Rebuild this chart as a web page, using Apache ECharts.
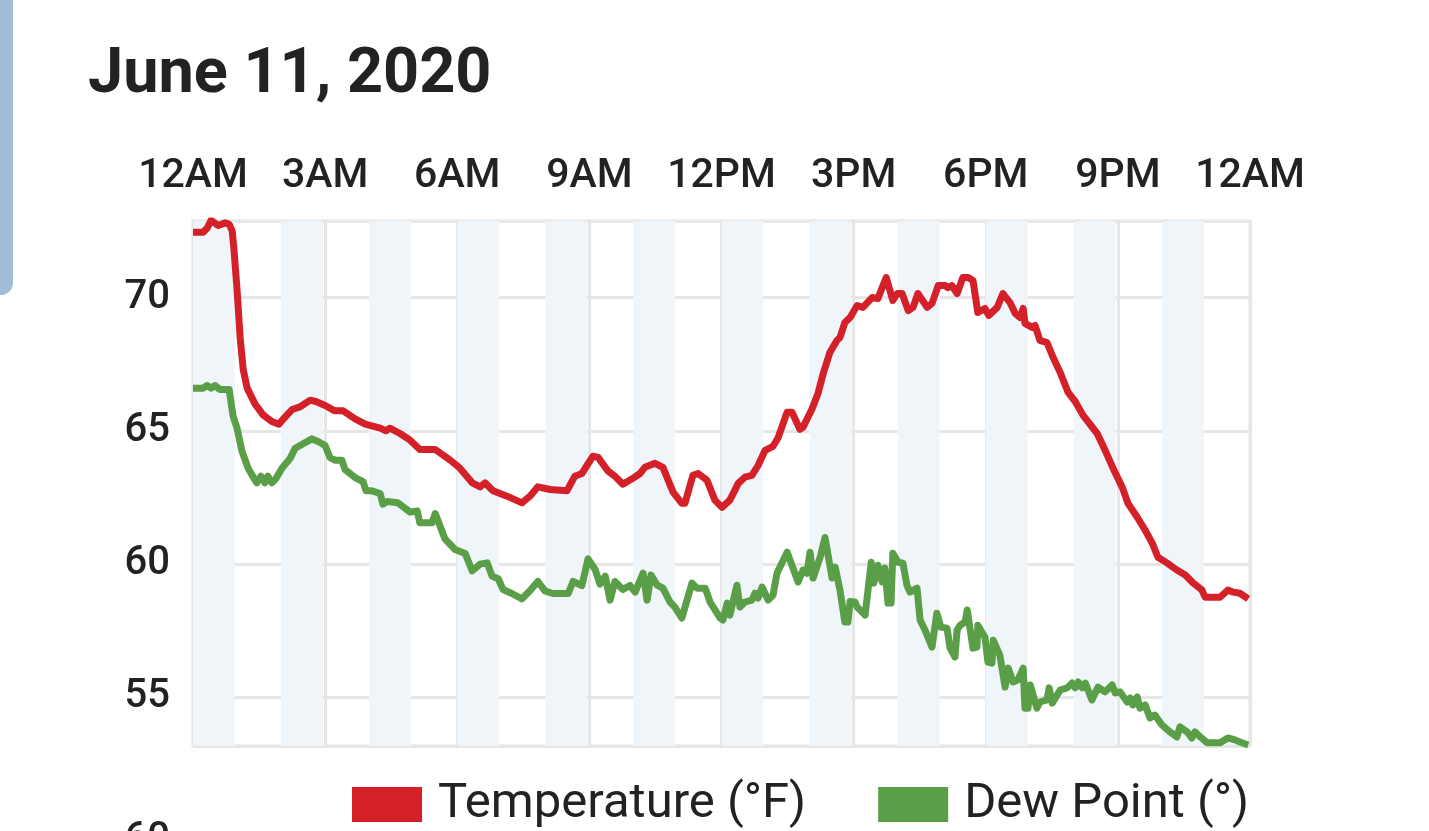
<!DOCTYPE html>
<html>
<head>
<meta charset="utf-8">
<script src="https://cdn.jsdelivr.net/npm/echarts@6/dist/echarts.min.js"></script>
<style>
html,body{margin:0;padding:0;background:#fff;}
#chart{width:1429px;height:831px;}
</style>
</head>
<body>
<div id="chart"></div>
<script>
// Tick labels for the hour axis (every 3 hours)
const tickLabels = ['12AM','3AM','6AM','9AM','12PM','3PM','6PM','9PM','12AM'];

// Temperature (°F): time in hours since midnight, value
const tempHours = [0.00,0.23,0.32,0.41,0.57,0.73,0.82,0.89,0.93,1.00,1.07,1.14,1.23,1.41,1.59,1.79,1.95,2.11,2.25,2.43,2.66,2.79,3.00,3.22,3.41,3.68,3.91,4.25,4.38,4.47,4.70,4.93,5.15,5.50,5.84,6.06,6.34,6.52,6.63,6.81,7.13,7.47,7.65,7.83,8.11,8.49,8.67,8.83,9.08,9.20,9.42,9.58,9.76,9.97,10.15,10.26,10.49,10.67,10.90,11.10,11.17,11.35,11.47,11.67,11.85,12.01,12.19,12.38,12.53,12.69,12.83,12.99,13.17,13.28,13.49,13.60,13.78,13.85,14.06,14.19,14.31,14.46,14.62,14.69,14.80,14.92,15.08,15.21,15.42,15.55,15.74,15.89,15.99,16.10,16.24,16.35,16.46,16.67,16.78,16.92,17.08,17.14,17.23,17.35,17.48,17.60,17.71,17.82,17.98,18.07,18.26,18.39,18.55,18.67,18.78,18.85,18.89,19.05,19.12,19.23,19.39,19.53,19.69,19.87,20.03,20.21,20.53,20.71,20.89,21.10,21.23,21.44,21.62,21.78,21.91,22.12,22.34,22.53,22.71,22.91,22.98,23.32,23.50,23.62,23.77,23.96];
const tempValues = [72.45,72.45,72.6,72.9,72.7,72.8,72.75,72.5,71.8,70.3,68.5,67.3,66.6,66.0,65.6,65.35,65.25,65.55,65.8,65.9,66.15,66.1,65.95,65.75,65.75,65.45,65.25,65.1,65.0,65.1,64.9,64.65,64.3,64.3,63.9,63.6,63.05,62.9,63.05,62.75,62.55,62.3,62.55,62.9,62.8,62.75,63.3,63.4,64.05,64.0,63.5,63.3,63.0,63.2,63.4,63.63,63.78,63.63,62.7,62.28,62.28,63.33,63.4,63.15,62.4,62.13,62.4,63.03,63.26,63.33,63.7,64.27,64.42,64.72,65.7,65.7,65.06,65.13,65.84,66.4,67.15,67.94,68.39,68.5,69.06,69.25,69.7,69.63,70.0,69.96,70.75,69.89,70.15,70.15,69.51,69.63,70.15,69.63,69.78,70.45,70.45,70.37,70.45,70.15,70.75,70.75,70.64,69.44,69.59,69.33,69.63,70.15,69.81,69.4,69.25,69.59,69.03,68.88,68.95,68.39,68.31,67.75,67.19,66.44,66.1,65.58,64.9,64.27,63.6,62.88,62.28,61.76,61.27,60.79,60.26,60.04,59.78,59.59,59.29,59.03,58.76,58.76,59.03,58.95,58.91,58.7];

// Dew Point (°): time in hours since midnight, value
const dewHours = [0.00,0.23,0.32,0.41,0.50,0.61,0.82,0.91,1.00,1.11,1.25,1.39,1.45,1.54,1.63,1.70,1.79,1.88,2.02,2.20,2.32,2.48,2.70,2.84,3.00,3.11,3.22,3.38,3.45,3.68,3.86,3.93,4.06,4.25,4.31,4.41,4.65,4.93,5.09,5.15,5.43,5.50,5.72,5.95,6.18,6.34,6.52,6.68,6.79,6.93,7.04,7.24,7.47,7.65,7.83,7.99,8.17,8.52,8.63,8.83,8.97,9.13,9.24,9.36,9.47,9.58,9.76,9.92,10.04,10.22,10.31,10.40,10.54,10.67,10.83,10.94,11.10,11.33,11.44,11.63,11.74,11.97,12.03,12.13,12.19,12.35,12.42,12.53,12.69,12.76,12.83,12.92,13.06,13.17,13.26,13.49,13.74,13.85,13.94,14.01,14.08,14.24,14.35,14.51,14.58,14.69,14.80,14.87,14.92,15.03,15.08,15.26,15.40,15.46,15.55,15.65,15.71,15.78,15.85,15.89,16.01,16.12,16.21,16.28,16.44,16.51,16.62,16.78,16.89,16.98,17.12,17.19,17.30,17.35,17.42,17.53,17.58,17.71,17.80,17.82,17.98,18.05,18.14,18.17,18.32,18.44,18.51,18.62,18.73,18.85,18.89,18.96,19.01,19.16,19.23,19.39,19.44,19.51,19.69,19.85,19.96,20.03,20.10,20.19,20.26,20.41,20.55,20.71,20.87,20.94,21.05,21.21,21.28,21.34,21.44,21.50,21.62,21.73,21.84,22.00,22.18,22.34,22.41,22.57,22.68,22.75,22.87,23.03,23.32,23.50,23.66,23.77,23.96];
const dewValues = [66.6,66.6,66.7,66.6,66.7,66.55,66.55,65.55,65.1,64.25,63.6,63.2,63.05,63.3,63.05,63.3,63.05,63.2,63.6,63.95,64.35,64.5,64.7,64.6,64.45,64.0,63.9,63.9,63.55,63.25,63.1,62.75,62.75,62.65,62.25,62.35,62.3,61.95,62.0,61.55,61.55,61.9,60.95,60.55,60.4,59.75,60.0,60.05,59.55,59.45,59.05,58.9,58.7,59.0,59.35,59.0,58.9,58.9,59.35,59.2,60.2,59.8,59.25,59.55,58.65,59.35,59.05,59.2,58.95,59.66,58.65,59.59,59.21,59.1,58.58,58.39,57.98,59.29,59.1,59.1,58.58,57.98,57.9,58.54,58.09,59.21,58.39,58.58,58.65,58.91,58.73,59.14,58.65,58.84,59.66,60.45,59.33,59.78,59.66,60.45,59.48,60.26,61.0,59.48,59.89,59.03,57.83,57.83,58.6,58.58,58.39,58.09,60.07,59.29,59.96,59.33,59.85,58.54,58.54,60.41,60.07,60.04,59.21,58.95,59.1,57.9,57.53,56.89,58.16,57.64,57.6,56.85,56.52,57.53,57.71,57.83,58.28,56.85,56.89,57.71,57.27,56.33,56.29,57.15,56.59,55.39,56.1,55.58,55.66,56.1,54.6,54.6,55.47,54.6,54.83,54.91,55.36,54.79,55.28,55.36,55.54,55.36,55.58,55.36,55.54,54.91,55.39,55.21,55.47,55.17,55.21,54.83,54.98,54.72,55.02,54.6,54.72,54.23,54.34,53.97,53.71,53.52,53.9,53.71,53.48,53.71,53.52,53.3,53.3,53.48,53.41,53.33,53.22];

// Shaded hour bands (start hour of each shaded hour)
const bandStarts = [0,2,4,6,8,10,12,14,16,18,20,22];

const RED = '#d42129';
const GREEN = '#5b9e48';
const TEXT = '#222222';
const GRID = '#e6e6e6';

const zip = (a, b) => a.map((x, i) => [x, b[i]]);

const chart = echarts.init(document.getElementById('chart'), null, {renderer: 'canvas'});

chart.setOption({
  animation: false,
  backgroundColor: '#ffffff',
  textStyle: {fontFamily: 'Roboto'},
  title: {
    text: 'June 11, 2020',
    left: 83,
    top: 40,
    textStyle: {fontFamily: 'Roboto', fontSize: 63, fontWeight: 'bold', color: TEXT}
  },
  graphic: [
    {type: 'rect', shape: {x: -30, y: -30, width: 43, height: 325, r: 12}, style: {fill: '#a2bdd7'}, z: 100},
    {type: 'text', right: 1429 - 170, top: 820, style: {text: '60', font: '500 40px Roboto', fill: TEXT}}
  ],
  legend: {
    left: 347,
    top: 775,
    itemWidth: 70,
    itemHeight: 35,
    itemGap: 72,
    icon: 'rect',
    textStyle: {fontFamily: 'Roboto', fontSize: 49, color: TEXT, padding: [0, 0, 0, 11]},
    data: ['Temperature (°F)', 'Dew Point (°)']
  },
  grid: {
    left: 193, right: 1429 - 1250, top: 221, bottom: 831 - 746,
    show: true, borderColor: GRID, borderWidth: 3, backgroundColor: 'transparent',
    containLabel: false
  },
  xAxis: {
    type: 'value', position: 'top', min: 0, max: 24, interval: 3,
    axisLine: {show: false}, axisTick: {show: false},
    splitLine: {show: true, lineStyle: {color: GRID, width: 3}},
    axisLabel: {
      show: true, margin: 24, fontFamily: 'Roboto', fontSize: 41, fontWeight: 500, color: TEXT,
      showMinLabel: true, showMaxLabel: true, hideOverlap: false,
      formatter: v => tickLabels[Math.round(v / 3)]
    }
  },
  yAxis: {
    type: 'value', min: 53.18, max: 72.87, splitNumber: 4,
    axisLine: {show: false}, axisTick: {show: false},
    splitLine: {show: true, lineStyle: {color: GRID, width: 3}},
    axisLabel: {
      margin: 23, fontFamily: 'Roboto', fontSize: 40, fontWeight: 500, color: TEXT,
      showMinLabel: true, showMaxLabel: true,
      formatter: v => (Math.abs(v / 5 - Math.round(v / 5)) < 1e-6 ? String(Math.round(v)) : '')
    }
  },
  series: [
    {
      name: 'bands', type: 'line', data: [], z: -1, silent: true,
      markArea: {
        silent: true,
        itemStyle: {color: '#f0f5fa'},
        data: bandStarts.map(s => [{xAxis: s}, {xAxis: s + 0.95}])
      }
    },
    {
      name: 'Temperature (°F)', type: 'line', data: zip(tempHours, tempValues),
      showSymbol: false, symbol: 'none', z: 3,
      lineStyle: {color: RED, width: 7, join: 'round'},
      itemStyle: {color: RED}
    },
    {
      name: 'Dew Point (°)', type: 'line', data: zip(dewHours, dewValues),
      showSymbol: false, symbol: 'none', z: 3,
      lineStyle: {color: GREEN, width: 7, join: 'round'},
      itemStyle: {color: GREEN}
    }
  ]
});
</script>
</body>
</html>
